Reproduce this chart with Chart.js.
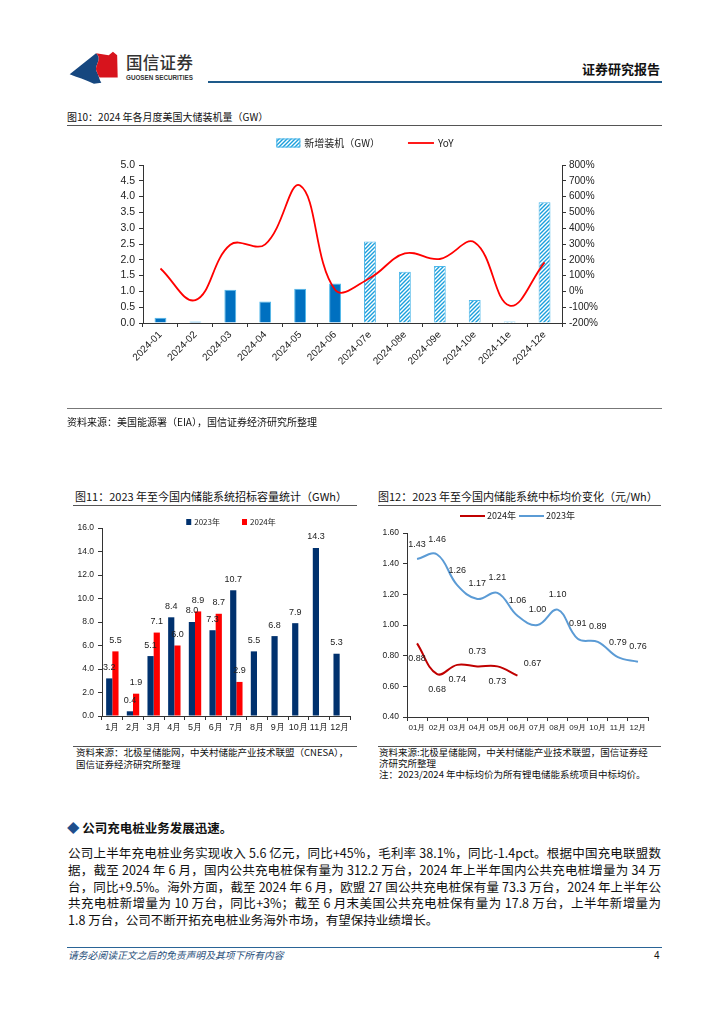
<!DOCTYPE html>
<html lang="zh"><head><meta charset="utf-8">
<script src="https://cdn.jsdelivr.net/npm/chart.js@4.4.1/dist/chart.umd.min.js"></script>
<style>
body{margin:0;background:#fff;width:724px;height:1024px;position:relative;font-family:"Noto Sans CJK SC","Noto Sans",sans-serif;color:#111;overflow:hidden}
.t{position:absolute;white-space:nowrap;line-height:1}
.hr{position:absolute;height:0}
canvas{position:absolute}
.pl{position:absolute;left:68px;width:593px;font-size:12.5px;line-height:1;white-space:nowrap;color:#111}
.j{text-align:justify;text-align-last:justify}
</style></head><body>

<svg style="position:absolute;left:67px;top:49px" width="56" height="38" viewBox="0 0 52 36">
  <path d="M2,24 L27,4 C34,10 24,16 28,22 C30,26 30,29 32,32 L25,33 C17,29 9,27 2,24 Z" fill="#16477f"/>
  <path d="M27,4 L39,6 L43,2.5 L47,6 L47.5,27 L30.3,27 C29.5,25 28,23.5 28,22 C24,16 34,10 27,4 Z" fill="#d7141d"/>
</svg>
<div class="t" style="left:126px;top:54px;font-size:16.5px;color:#333;font-weight:500;letter-spacing:0.3px">国信证券</div>
<div class="t" style="left:126px;top:75px;font-size:6.3px;color:#333;font-family:'Liberation Sans';font-weight:bold">GUOSEN SECURITIES</div>
<div class="hr" style="left:208px;top:81px;width:454px;border-top:2px solid #1e5a8a"></div>
<div class="t" style="left:582px;top:62px;font-size:13px;font-weight:bold;color:#111">证券研究报告</div>

<div class="t" style="left:67px;top:112px;font-size:10px;color:#111">图10：2024 年各月度美国大储装机量（GW）</div>
<div class="hr" style="left:67px;top:125px;width:595px;border-top:1px solid #555"></div>
<canvas id="c1" width="540" height="280" style="left:80px;top:130px;width:540px;height:280px"></canvas>
<div class="hr" style="left:67px;top:408px;width:595px;border-top:1px solid #777"></div>
<div class="t" style="left:67px;top:417px;font-size:10px;color:#111">资料来源：美国能源署（EIA），国信证券经济研究所整理</div>

<div class="t" style="left:75px;top:491px;font-size:11px;color:#111">图11：2023 年至今国内储能系统招标容量统计（GWh）</div>
<div class="hr" style="left:73px;top:505px;width:284px;border-top:1.5px solid #555"></div>
<canvas id="c2" width="305" height="234" style="left:60px;top:508px;width:305px;height:234px"></canvas>
<div class="hr" style="left:73px;top:746px;width:284px;border-top:1px solid #555"></div>
<div class="t" style="left:76px;top:748px;font-size:9.5px;color:#111">资料来源：北极星储能网，中关村储能产业技术联盟（CNESA），</div>
<div class="t" style="left:76px;top:760px;font-size:9.5px;color:#111">国信证券经济研究所整理</div>

<div class="t" style="left:378px;top:491px;font-size:11px;color:#111">图12：2023 年至今国内储能系统中标均价变化（元/Wh）</div>
<div class="hr" style="left:378px;top:505px;width:283px;border-top:1.5px solid #555"></div>
<canvas id="c3" width="295" height="234" style="left:370px;top:508px;width:295px;height:234px"></canvas>
<div class="hr" style="left:378px;top:746px;width:283px;border-top:1px solid #555"></div>
<div class="t" style="left:379px;top:748px;font-size:9.5px;color:#111">资料来源:北极星储能网，中关村储能产业技术联盟，国信证券经</div>
<div class="t" style="left:379px;top:759px;font-size:9.5px;color:#111">济研究所整理</div>
<div class="t" style="left:379px;top:770px;font-size:9.5px;color:#111">注：2023/2024 年中标均价为所有锂电储能系统项目中标均价。</div>

<div class="t" style="left:67px;top:822px;font-size:12.5px;font-weight:bold;color:#111"><span style="color:#1e4e8c">◆</span> 公司充电桩业务发展迅速。</div>
<div class="pl j" style="top:847px">公司上半年充电桩业务实现收入 5.6 亿元，同比+45%，毛利率 38.1%，同比-1.4pct。根据中国充电联盟数</div>
<div class="pl j" style="top:864px">据，截至 2024 年 6 月，国内公共充电桩保有量为 312.2 万台，2024 年上半年国内公共充电桩增量为 34 万</div>
<div class="pl j" style="top:881px">台，同比+9.5%。海外方面，截至 2024 年 6 月，欧盟 27 国公共充电桩保有量 73.3 万台，2024 年上半年公</div>
<div class="pl j" style="top:897px">共充电桩新增量为 10 万台，同比+3%；截至 6 月末美国公共充电桩保有量为 17.8 万台，上半年新增量为</div>
<div class="pl" style="top:914px">1.8 万台，公司不断开拓充电桩业务海外市场，有望保持业绩增长。</div>

<div class="hr" style="left:67px;top:947px;width:595px;border-top:1px solid #2a6496"></div>
<div class="t" style="left:68px;top:951px;font-size:9.8px;font-style:italic;color:#1f4e79">请务必阅读正文之后的免责声明及其项下所有内容</div>
<div class="t" style="left:654px;top:951px;font-size:10px;color:#111;font-family:'Liberation Sans'">4</div>

<script>
// ---------- data ----------
const months1 = ['2024-01','2024-02','2024-03','2024-04','2024-05','2024-06','2024-07e','2024-08e','2024-09e','2024-10e','2024-11e','2024-12e'];
const installedGW = [0.17, 0.05, 1.05, 0.68, 1.08, 1.25, 2.58, 1.62, 1.80, 0.73, 0.05, 3.82];
const yoyPct = [145, -55, 295, 298, 670, 10, 85, 240, 205, 310, -90, 184];
const ticks1Left = {min: 0, max: 5, step: 0.5};
const ticks1Right = {min: -200, max: 800, step: 100};

const months2 = ['1月','2月','3月','4月','5月','6月','7月','8月','9月','10月','11月','12月'];
const bid2023 = [3.2, 0.4, 5.1, 8.4, 8.0, 7.3, 10.7, 5.5, 6.8, 7.9, 14.3, 5.3];
const bid2024 = [5.5, 1.9, 7.1, 6.0, 8.9, 8.7, 2.9];
const ticks2 = {min: 0, max: 16, step: 2};

const months3 = ['01月','02月','03月','04月','05月','06月','07月','08月','09月','10月','11月','12月'];
const price2024 = [0.88, 0.68, 0.74, 0.73, 0.73, 0.67];
const price2023 = [1.43, 1.46, 1.26, 1.17, 1.21, 1.06, 1.00, 1.10, 0.91, 0.89, 0.79, 0.76];
const ticks3 = {min: 0.4, max: 1.6, step: 0.2};

// ---------- helpers ----------
Chart.defaults.font.family = "'Liberation Sans', Arial, sans-serif";
Chart.defaults.color = '#222';
Chart.defaults.animation = false;

function hatch(){
  const s = 4, c = document.createElement('canvas');
  c.width = s; c.height = s;
  const g = c.getContext('2d');
  g.fillStyle = '#ffffff'; g.fillRect(0,0,s,s);
  g.strokeStyle = '#1b9fdc'; g.lineWidth = 1.4;
  g.beginPath();
  g.moveTo(0,s); g.lineTo(s,0);
  g.moveTo(-1,1); g.lineTo(1,-1);
  g.moveTo(s-1,s+1); g.lineTo(s+1,s-1);
  g.stroke();
  return g.createPattern(c,'repeat');
}
const hatchPattern = hatch();

const fixedLegend = {
  id:'fixedLegend',
  afterDraw(chart, args, o){
    if(!o || !o.items) return;
    const ctx = chart.ctx; ctx.save();
    ctx.font = o.font; ctx.textBaseline = 'middle';
    const items = o.items.map(it => Object.assign({}, it, {text: chart.data.datasets[it.ds].label}));
    const ws = items.map(it => it.symW + o.symGap + ctx.measureText(it.text).width);
    const total = ws.reduce((a,b)=>a+b,0) + o.itemGap*(items.length-1);
    let x = o.cx - total/2; const y = o.y;
    items.forEach((it,i)=>{
      if(it.type === 'line'){
        ctx.strokeStyle = it.color; ctx.lineWidth = it.lw || 2;
        ctx.beginPath(); ctx.moveTo(x, y); ctx.lineTo(x+it.symW, y); ctx.stroke();
      } else {
        ctx.fillStyle = it.fill; ctx.fillRect(x, y-it.symH/2, it.symW, it.symH);
        if(it.stroke){ ctx.strokeStyle = it.stroke; ctx.lineWidth = 1; ctx.strokeRect(x+0.5, y-it.symH/2+0.5, it.symW-1, it.symH-1); }
      }
      ctx.fillStyle = o.color || '#222'; ctx.textAlign = 'left';
      ctx.fillText(it.text, x + it.symW + o.symGap, y);
      x += ws[i] + o.itemGap;
    });
    ctx.restore();
  }
};

const valueLabels = {
  id:'valueLabels',
  afterDatasetsDraw(chart, args, o){
    if(!o || !o.enabled) return;
    const ctx = chart.ctx; ctx.save();
    ctx.font = o.font; ctx.fillStyle = o.color || '#222';
    ctx.textAlign = 'center'; ctx.textBaseline = 'middle';
    chart.data.datasets.forEach((ds,i)=>{
      const meta = chart.getDatasetMeta(i);
      const place = (o.place && o.place[i]) || 'above';
      meta.data.forEach((el,j)=>{
        const v = ds.data[j]; if(v == null) return;
        const p = Array.isArray(place) ? place[j] : place;
        let dx = 0, dy = -o.offset;
        if(p === 'below') dy = o.offset;
        if(p === 'aboveRight'){ dx = 15; dy = -12; }
        ctx.fillText(v.toFixed(o.digits), el.x + dx, el.y + dy);
      });
    });
    ctx.restore();
  }
};

function axisGrid(){ return {display:true, drawOnChartArea:false, drawTicks:true, tickLength:4, color:'#333', lineWidth:1}; }
function axisBorder(){ return {display:true, color:'#333', width:1}; }

// ---------- chart 1 ----------
new Chart(document.getElementById('c1'), {
  data:{
    labels: months1,
    datasets:[
      {type:'line', label:'YoY', data: yoyPct, yAxisID:'y1', borderColor:'#ff0000', borderWidth:1.8, pointRadius:0, tension:0.4, fill:false, order:0},
      {type:'bar', label:'新增装机（GW）', data: installedGW, yAxisID:'y',
       backgroundColor: months1.map(m => m.endsWith('e') ? hatchPattern : '#0070c0'),
       borderColor:'#4fb8ea', borderWidth:1, barPercentage:0.34, categoryPercentage:1.0, order:1}
    ]
  },
  options:{
    responsive:false, maintainAspectRatio:false,
    layout:{padding:{top:35, left:0, right:0, bottom:0}},
    plugins:{
      legend:{display:false}, tooltip:{enabled:false},
      fixedLegend:{cx:285, y:13, font:"10px 'Noto Sans CJK SC'", symGap:4, itemGap:28, color:'#222',
        items:[{ds:1, type:'box', fill:hatchPattern, stroke:'#4fb8ea', symW:24, symH:9},
               {ds:0, type:'line', color:'#ff0000', lw:1.8, symW:26}]}
    },
    scales:{
      x:{grid:Object.assign(axisGrid(),{offset:true}), border:axisBorder(),
         ticks:{minRotation:45, maxRotation:45, autoSkip:false, font:{size:10}, padding:2},
         afterFit(s){ s.height = 87; }},
      y:{position:'left', min:ticks1Left.min, max:ticks1Left.max, grid:axisGrid(), border:axisBorder(),
         ticks:{stepSize:ticks1Left.step, font:{size:10.5}, padding:4, callback:v=>Number(v).toFixed(1)},
         afterFit(s){ s.width = 63; }},
      y1:{position:'right', min:ticks1Right.min, max:ticks1Right.max, grid:axisGrid(), border:axisBorder(),
         ticks:{stepSize:ticks1Right.step, font:{size:10}, padding:3, callback:v=>v+'%'},
         afterFit(s){ s.width = 58; }}
    }
  },
  plugins:[fixedLegend]
});

// ---------- chart 2 ----------
new Chart(document.getElementById('c2'), {
  type:'bar',
  data:{
    labels: months2,
    datasets:[
      {label:'2023年', data: bid2023, backgroundColor:'#00316e', barPercentage:1.0, categoryPercentage:0.6},
      {label:'2024年', data: bid2024, backgroundColor:'#ff0000', barPercentage:1.0, categoryPercentage:0.6}
    ]
  },
  options:{
    responsive:false, maintainAspectRatio:false,
    layout:{padding:{top:20, left:0, right:15, bottom:0}},
    plugins:{
      legend:{display:false}, tooltip:{enabled:false},
      fixedLegend:{cx:171, y:14, font:"8px 'Noto Sans CJK SC'", symGap:3, itemGap:22, color:'#222',
        items:[{ds:0, type:'box', fill:'#00316e', symW:5, symH:6},
               {ds:1, type:'box', fill:'#ff0000', symW:5, symH:6}]},
      valueLabels:{enabled:true, font:"9px 'Liberation Sans'", offset:11, digits:1, color:'#222'}
    },
    scales:{
      x:{grid:Object.assign(axisGrid(),{offset:true}), border:axisBorder(),
         ticks:{autoSkip:false, maxRotation:0, font:{size:9}, padding:2},
         afterFit(s){ s.height = 26; }},
      y:{min:ticks2.min, max:ticks2.max, grid:axisGrid(), border:axisBorder(),
         ticks:{stepSize:ticks2.step, font:{size:8.5}, padding:4, callback:v=>Number(v).toFixed(1)},
         afterFit(s){ s.width = 42; }}
    }
  },
  plugins:[fixedLegend, valueLabels]
});

// ---------- chart 3 ----------
new Chart(document.getElementById('c3'), {
  type:'line',
  data:{
    labels: months3,
    datasets:[
      {label:'2024年', data: price2024, borderColor:'#c00000', borderWidth:2, pointRadius:0, tension:0.4, fill:false},
      {label:'2023年', data: price2023, borderColor:'#5b9bd5', borderWidth:2, pointRadius:0, tension:0.4, fill:false}
    ]
  },
  options:{
    responsive:false, maintainAspectRatio:false,
    layout:{padding:{top:25, left:0, right:17, bottom:0}},
    plugins:{
      legend:{display:false}, tooltip:{enabled:false},
      fixedLegend:{cx:147.5, y:8, font:"9px 'Noto Sans CJK SC'", symGap:2, itemGap:3, color:'#222',
        items:[{ds:0, type:'line', color:'#c00000', lw:2, symW:25},
               {ds:1, type:'line', color:'#5b9bd5', lw:2, symW:25}]},
      valueLabels:{enabled:true, font:"9px 'Liberation Sans'", offset:15, digits:2, color:'#222',
        place:{0:['below','below','below','above','below','aboveRight'], 1:'above'}}
    },
    scales:{
      x:{offset:true, grid:Object.assign(axisGrid(),{offset:true}), border:axisBorder(),
         ticks:{autoSkip:false, maxRotation:0, font:{size:8}, padding:2},
         afterFit(s){ s.height = 25; }},
      y:{min:ticks3.min, max:ticks3.max, grid:axisGrid(), border:axisBorder(),
         ticks:{stepSize:ticks3.step, font:{size:8.5}, padding:4, callback:v=>Number(v).toFixed(2)},
         afterFit(s){ s.width = 37; }}
    }
  },
  plugins:[fixedLegend, valueLabels]
});
</script>
</body></html>
